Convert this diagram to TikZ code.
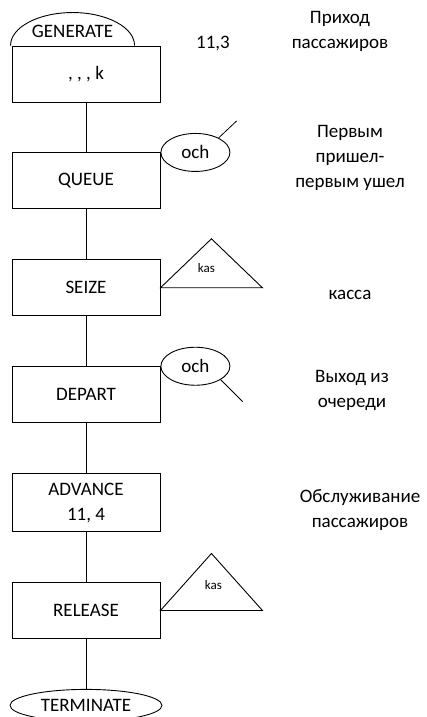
\documentclass[tikz,border=0pt]{standalone}
\usepackage{fontspec}
\setmainfont{Carlito}
\usetikzlibrary{positioning}
\usetikzlibrary{shapes.geometric}

\tikzset{
  gpsstyle/.style = {font=\fontsize{19}{25}\selectfont},
  gpsblock/.style = {draw, line width=0.9pt, rectangle, minimum width=148pt,
                     minimum height=56pt, inner sep=0pt, align=center, gpsstyle},
  queuemark/.style = {draw, line width=0.9pt, ellipse, minimum width=69pt,
                      minimum height=38pt, inner sep=0pt, gpsstyle},
  note/.style = {align=center, gpsstyle}
}

\begin{document}
\begin{tikzpicture}[x=1pt, y=1pt, node distance=50pt]
		\useasboundingbox (0,0) rectangle (427,717);
		% blocks
		\node[gpsblock] (gen) at (86,643) {, , , k};
		\node[gpsblock, below=of gen] (queue) {QUEUE};
		\node[gpsblock, below=of queue] (seize) {SEIZE};
		\node[gpsblock, below=of seize] (depart) {DEPART};
		\node[gpsblock, below=of depart, minimum height=58pt] (advance) {ADVANCE\\11, 4};
		\node[gpsblock, below=of advance] (release) {RELEASE};
		\node[queuemark, below=50pt of release, minimum width=152pt, minimum height=32pt] (term) {TERMINATE};
		\draw[line width=0.8pt] (gen) -- (queue) -- (seize) -- (depart) -- (advance) -- (release) -- (term);
		% generate
		\draw[line width=0.9pt] ([xshift=-1pt]gen.north west) arc (180:0:62 and 33);
		\node[gpsstyle] (gentxt) at ([xshift=61pt, yshift=14pt]gen.north west) {GENERATE};
		% queues
		\node[queuemark, anchor=west] (och1) at (queue.north east) {och};
		\draw[line width=0.8pt] (och1.32) -- ++(18,17);
		\node[queuemark, anchor=west] (och2) at (depart.north east) {och};
		\draw[line width=0.8pt] (och2.-28) -- ++(22,-22);
		% facility
		\draw[line width=0.9pt] (seize.east) -- ++(102,0) -- ++(-51,49) -- cycle;
		\node[font=\fontsize{13}{15}\selectfont] (kas1) at ([xshift=46pt, yshift=20pt]seize.east) {kas};
		\draw[line width=0.9pt] (release.east) -- ++(102,0) -- ++(-51,57) -- cycle;
		\node[font=\fontsize{13}{15}\selectfont] (kas2) at ([xshift=53pt, yshift=25pt]release.east) {kas};
		% comments
		\node[gpsstyle] (time1) at (213,673) {11,3};
		\node[note] (n1) at (340,686) {Приход\\пассажиров};
		\node[note] (n2) at (350,559) {Первым\\пришел-\\первым ушел};
		\node[note] (n3) at (350,422) {касса};
		\node[note] (n4) at (352,327) {Выход из\\очереди};
		\node[note] (n5) at (360,207) {Обслуживание\\пассажиров};
	\end{tikzpicture}
\end{document}
